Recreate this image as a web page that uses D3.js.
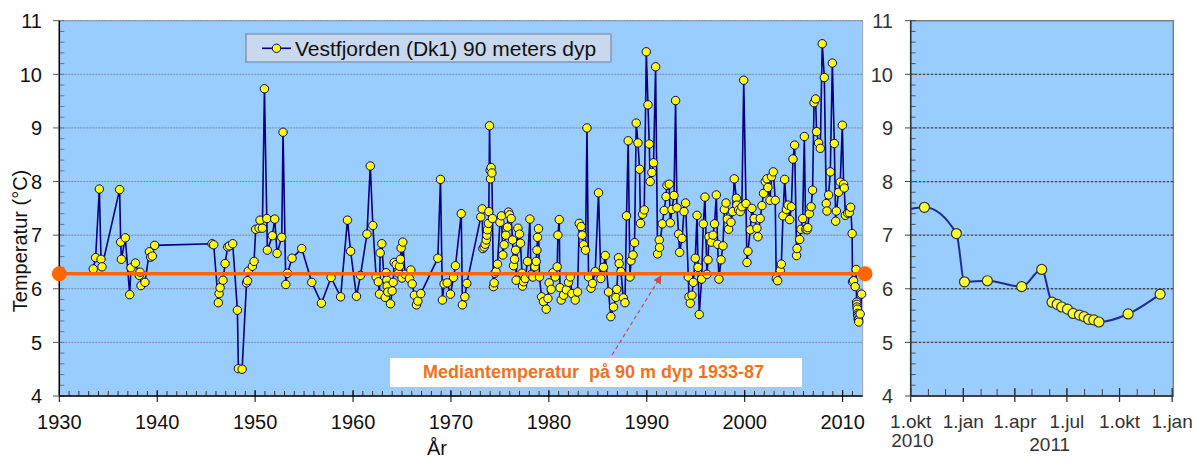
<!DOCTYPE html>
<html><head><meta charset="utf-8">
<script src="https://cdn.jsdelivr.net/npm/d3@7"></script>
<style>body{margin:0;background:#fff}svg{display:block}text{font-family:"Liberation Sans",Arial,sans-serif}</style>
</head><body>
<script>
// ---- data ----
const leftYears = [1933.47,1933.71,1934.09,1934.26,1934.36,1936.16,1936.27,1936.34,1936.74,1937.19,1937.32,1937.77,1938.17,1938.24,1938.34,1938.75,1939.2,1939.33,1939.5,1939.74,
1945.6,1945.77,1946.24,1946.32,1946.42,1946.72,1946.93,1947.2,1947.37,1947.71,1948.19,1948.29,1948.67,1949.12,1949.22,1949.3,1949.72,1949.89,
1950.06,1950.4,1950.5,1950.74,1950.95,1951.19,1951.25,1951.76,1952.0,1952.24,1952.72,1952.85,1953.13,1953.3,1953.77,1954.76,1955.78,1956.77,1957.76,1958.73,1959.43,1959.75,
1960.35,1960.76,1961.42,1961.76,1962.02,1962.36,1962.58,1962.7,1962.77,1962.94,1963.28,1963.38,1963.45,1963.48,1963.55,1963.82,1963.99,1964.1,1964.2,1964.4,1964.64,1964.74,1964.84,1964.91,1965.0,1965.08,1965.32,1965.76,1965.9,1966.04,1966.27,1966.48,1966.62,1966.92,1968.66,1968.93,1969.13,1969.3,1969.61,1969.95,
1970.26,1970.46,1971.05,1971.17,1971.42,1971.62,1973.05,1973.19,1973.26,1973.39,1973.49,1973.6,1973.67,1973.73,1973.83,1973.87,1973.94,1974.0,1974.04,1974.1,1974.18,1974.24,1974.34,1974.41,1974.48,1974.6,1974.75,
1975.0,1975.16,1975.3,1975.43,1975.6,1975.77,1975.87,1975.98,1976.15,1976.29,1976.39,1976.49,1976.6,1976.66,1976.84,1977.0,1977.1,1977.25,1977.31,1977.41,1977.58,1977.82,1978.06,1978.16,1978.37,1978.57,1978.71,1978.78,1978.84,1978.94,1979.04,1979.25,1979.45,1979.73,1979.9,
1980.03,1980.24,1980.41,1980.65,1980.85,1980.92,1981.06,1981.13,1981.26,1981.5,1981.78,1982.01,1982.18,1982.35,1982.69,1982.93,1983.1,1983.3,1983.4,1983.54,1983.74,1983.89,1984.05,1984.3,1984.46,1984.73,1985.07,1985.31,1985.58,1985.76,1986.09,1986.33,1986.6,1986.84,1986.94,1987.11,1987.18,1987.36,1987.6,1987.77,1987.93,1988.1,1988.28,1988.38,1988.59,1988.75,1988.92,1989.1,1989.26,1989.36,1989.57,1989.74,1989.95,
1990.12,1990.25,1990.35,1990.52,1990.69,1990.9,1991.1,1991.27,1991.3,1991.58,1991.78,1991.96,1992.06,1992.29,1992.4,1992.57,1992.78,1992.94,1993.08,1993.25,1993.35,1993.6,1993.8,1993.96,1994.24,1994.31,1994.44,1994.61,1994.75,1994.95,1995.13,1995.23,1995.36,1995.6,1995.77,1995.94,1996.14,1996.25,1996.35,1996.58,1996.76,1996.92,1997.1,1997.23,1997.37,1997.58,1997.78,1997.92,1998.09,1998.22,1998.36,1998.6,1998.77,1998.93,1999.14,1999.2,1999.37,1999.54,1999.71,1999.9,
2000.13,2000.23,2000.33,2000.57,2000.74,2000.97,2001.25,2001.35,2001.58,2001.76,2001.92,2002.1,2002.27,2002.37,2002.58,2002.74,2002.92,2003.12,2003.22,2003.36,2003.63,2003.74,2003.91,2004.08,2004.26,2004.43,2004.59,2004.77,2004.93,2005.1,2005.3,2005.34,2005.61,2005.75,2005.92,2006.09,2006.22,2006.37,2006.43,2006.6,2006.78,2006.93,2007.08,2007.24,2007.34,2007.55,2007.72,2007.92,2008.13,2008.33,2008.4,2008.57,2008.74,2008.95,2009.15,2009.29,2009.36,2009.59,2009.76,2009.97,
2010.1,2010.17,2010.28,2010.51,2010.68,2010.82,2010.97,2011.01,2011.12,2011.28,2011.38,2011.43,2011.45,2011.47,2011.5,2011.53,2011.56,2011.58,2011.6,2011.63,2011.65,2011.79,2011.94];
const leftTemps = [6.37,6.58,7.86,6.55,6.41,7.85,6.87,6.55,6.95,5.89,6.39,6.48,6.25,6.31,6.06,6.12,6.69,6.59,6.61,6.81,
6.84,6.82,5.74,5.91,6.02,6.16,6.47,6.78,6.80,6.84,5.60,4.51,4.50,6.11,6.15,6.33,6.42,6.51,
7.11,7.13,7.28,7.13,9.73,7.31,6.72,6.99,7.30,6.66,6.96,8.92,6.08,6.29,6.57,6.75,6.12,5.73,6.21,5.85,7.28,6.70,
5.86,6.25,7.02,8.29,7.18,6.22,6.13,5.90,6.67,6.84,5.84,6.30,6.16,6.05,5.94,5.72,5.96,6.12,6.49,6.45,6.29,6.42,6.55,6.76,6.20,6.87,6.27,6.19,6.35,6.09,5.88,5.70,5.77,5.91,6.57,8.04,5.79,6.09,6.11,5.90,
6.21,6.43,7.40,5.70,5.85,6.10,7.34,7.49,6.75,6.78,6.83,6.91,7.00,7.10,7.22,7.44,9.04,8.21,8.05,8.26,8.16,7.31,6.04,6.11,6.29,6.32,6.46,
7.24,7.36,6.63,6.82,7.00,7.15,7.43,7.38,7.31,6.91,6.43,6.55,6.72,6.16,7.13,7.02,6.85,6.29,6.05,6.13,6.19,6.51,7.30,6.26,6.22,6.41,6.51,6.72,6.96,7.12,6.22,5.85,5.76,5.62,5.82,
6.11,5.99,6.30,6.22,6.41,7.00,7.29,6.02,5.79,5.88,5.98,6.12,6.22,5.91,5.79,5.94,7.22,7.16,7.00,6.82,6.72,9.00,6.22,6.01,6.10,6.32,7.79,6.19,6.40,6.62,5.94,5.48,5.66,5.84,5.99,6.58,6.47,6.32,5.83,5.74,7.36,8.76,6.22,6.52,6.63,6.86,9.09,8.72,8.23,7.22,7.39,7.47,10.42,
9.43,8.70,8.00,8.17,8.35,10.14,6.65,6.91,6.77,7.21,7.46,7.72,7.93,7.95,7.23,7.48,7.74,9.51,7.51,7.02,6.68,6.94,7.44,7.60,6.22,5.85,5.73,5.88,6.12,6.57,7.37,6.40,5.52,6.18,7.21,7.71,6.27,6.54,6.97,6.87,7.00,7.21,7.75,6.83,6.18,6.54,6.80,7.48,7.60,7.30,7.11,7.24,7.44,8.05,7.69,7.56,7.47,7.44,7.53,9.89,
7.59,6.49,6.70,7.10,7.50,7.31,7.13,6.97,7.31,7.55,7.78,8.00,8.05,7.89,7.65,8.09,8.18,7.65,6.19,6.15,6.34,6.46,7.36,8.04,7.48,7.56,7.29,7.53,8.42,8.68,6.62,6.75,6.92,7.11,7.31,8.84,7.11,7.10,7.14,7.40,7.53,7.84,9.47,9.54,8.93,8.72,8.62,10.57,9.94,7.59,7.45,7.75,8.18,10.21,8.71,7.26,7.45,7.80,7.99,9.05,
7.95,7.88,7.37,7.41,7.42,7.52,7.03,6.13,6.15,6.04,6.36,5.75,5.71,5.66,5.62,5.54,5.51,5.48,5.43,5.42,5.38,5.53,5.90];
const medianTemp = 6.28;
const seriesName = "Vestfjorden (Dk1) 90 meters dyp";
const medianLabel = "Mediantemperatur  på 90 m dyp 1933-87";

const rightDates = ["2010-09-05","2010-10-25","2010-12-20","2011-01-03","2011-02-12","2011-04-13","2011-05-18","2011-06-05","2011-06-14","2011-06-22","2011-07-02","2011-07-12","2011-07-23","2011-07-31","2011-08-08","2011-08-17","2011-08-26","2011-10-16","2011-12-11"];
const rightTemps = [7.42,7.52,7.03,6.13,6.15,6.04,6.36,5.75,5.71,5.66,5.62,5.54,5.51,5.48,5.43,5.42,5.38,5.53,5.90];

const yTicks = [4,5,6,7,8,9,10,11];
const xTicksLeft = [1930,1940,1950,1960,1970,1980,1990,2000,2010];
const rightTickDates = ["2010-10-01","2011-01-01","2011-04-01","2011-07-01","2011-10-01","2012-01-01"];
const rightTickLabels = ["1.okt","1.jan","1.apr","1.jul","1.okt","1.jan"];
const rightYearLabels = [["2010","2010-10-04"],["2011","2011-06-01"]];

// ---- chart ----
const W = 1203, H = 459;
const svg = d3.select("body").append("svg").attr("width", W).attr("height", H);
const bg = "#99CCFF";
const y = d3.scaleLinear().domain([4, 11]).range([396, 20.7]);
const xL = d3.scaleLinear().domain([1930, 2012.05]).range([59.3, 862.7]);
const pd = d3.utcParse("%Y-%m-%d");
const xR = d3.scaleUtc().domain([pd("2010-10-01"), pd("2012-01-03")]).range([910.7, 1173.3]);

// ===== LEFT PANEL =====
const gL = svg.append("g");
gL.append("rect").attr("x", xL.range()[0]).attr("y", y(11)).attr("width", xL.range()[1]-xL.range()[0]).attr("height", y(4)-y(11)).attr("fill", bg).attr("stroke", "#9aa3ad").attr("stroke-width", 1);
gL.selectAll(".grid").data(yTicks.filter(d => d > 4)).join("line")
  .attr("x1", xL.range()[0]).attr("x2", xL.range()[1]).attr("y1", d => y(d)).attr("y2", d => y(d))
  .attr("stroke", "#7d8a99").attr("stroke-width", 1).attr("stroke-dasharray", "2,1");
const minorY = d3.range(4, 11.001, 0.2);
gL.selectAll(".my").data(minorY).join("line")
  .attr("x1", xL.range()[0]).attr("x2", xL.range()[0]+5).attr("y1", d => y(d)).attr("y2", d => y(d))
  .attr("stroke", "#6b7580").attr("stroke-width", 1);
gL.selectAll(".mx").data(d3.range(1931, 2012)).join("line")
  .attr("x1", d => xL(d)).attr("x2", d => xL(d)).attr("y1", 391).attr("y2", 396)
  .attr("stroke", "#333").attr("stroke-width", 1);
gL.append("line").attr("x1", xL.range()[0]).attr("x2", xL.range()[0]).attr("y1", y(11)).attr("y2", y(4)).attr("stroke", "#000").attr("stroke-width", 1.5);
gL.append("line").attr("x1", xL.range()[0]).attr("x2", xL.range()[1]).attr("y1", y(4)).attr("y2", y(4)).attr("stroke", "#000").attr("stroke-width", 1.5);
gL.selectAll(".Mx").data(xTicksLeft).join("line")
  .attr("x1", d => xL(d)).attr("x2", d => xL(d)).attr("y1", 390).attr("y2", 402).attr("stroke", "#000");
gL.selectAll(".My").data(yTicks).join("line")
  .attr("x1", 53).attr("x2", xL.range()[0]).attr("y1", d => y(d)).attr("y2", d => y(d)).attr("stroke", "#555");
gL.selectAll(".yl").data(yTicks).join("text")
  .attr("x", 42).attr("y", d => y(d)).attr("dy", "0.36em").attr("text-anchor", "end")
  .attr("font-size", 20).attr("fill", "#111").text(d => d);
gL.selectAll(".xl").data(xTicksLeft).join("text")
  .attr("x", d => xL(d)).attr("y", 429).attr("text-anchor", "middle")
  .attr("font-size", 20).attr("fill", "#111").text(d => d);
gL.append("text").attr("transform", "translate(27,241) rotate(-90)").attr("text-anchor", "middle")
  .attr("font-size", 20).attr("fill", "#111").text("Temperatur (°C)");
gL.append("text").attr("x", 437).attr("y", 455).attr("text-anchor", "middle").attr("font-size", 20).attr("fill", "#111").text("År");

const leftData = leftYears.map((d, i) => [d, leftTemps[i]]);
gL.append("path").datum(leftData)
  .attr("d", d3.line().x(d => xL(d[0])).y(d => y(d[1])))
  .attr("fill", "none").attr("stroke", "#000080").attr("stroke-width", 1.6).attr("stroke-linejoin", "round");
gL.selectAll(".leftpt").data(leftData).join("circle")
  .attr("cx", d => xL(d[0])).attr("cy", d => y(d[1])).attr("r", 4.2)
  .attr("fill", "#FFFF00").attr("stroke", "#000080").attr("stroke-width", 1);
// median line on top of markers
const orange = "#FF6600";
gL.append("line").attr("x1", xL(1930)).attr("x2", 865).attr("y1", y(medianTemp)).attr("y2", y(medianTemp))
  .attr("stroke", orange).attr("stroke-width", 3.5);
gL.selectAll(".medc").data([xL(1930), 865]).join("circle")
  .attr("cx", d => d).attr("cy", y(medianTemp)).attr("r", 7.5).attr("fill", orange);

// legend
const lg = gL.append("g");
lg.append("rect").attr("x", 246).attr("y", 34).attr("width", 365).attr("height", 28)
  .attr("fill", "#C8D8EE").attr("stroke", "#8797ad").attr("stroke-width", 1.5);
lg.append("line").attr("x1", 262).attr("x2", 291).attr("y1", 48.3).attr("y2", 48.3).attr("stroke", "#000080").attr("stroke-width", 1.6);
lg.append("circle").attr("cx", 276.5).attr("cy", 48.3).attr("r", 4.2).attr("fill", "#FFFF00").attr("stroke", "#000080");
lg.append("text").attr("x", 295).attr("y", 55.8).attr("font-size", 21).attr("fill", "#111").text(seriesName);

// annotation
gL.append("rect").attr("x", 390).attr("y", 358).attr("width", 412).attr("height", 29).attr("fill", "#fff");
gL.append("text").attr("x", 423).attr("y", 378).attr("font-size", 18).attr("font-weight", "bold")
  .attr("fill", "#EE7222").style("white-space", "pre").text(medianLabel);
svg.append("defs").append("marker").attr("id", "arr").attr("viewBox", "0 0 10 10").attr("refX", 9).attr("refY", 5)
  .attr("markerWidth", 7).attr("markerHeight", 7).attr("orient", "auto")
  .append("path").attr("d", "M0,0L10,5L0,10z").attr("fill", "#C0504D");
gL.append("line").attr("x1", 612).attr("y1", 355).attr("x2", 661).attr("y2", 276)
  .attr("stroke", "#C0504D").attr("stroke-width", 1.2).attr("stroke-dasharray", "4,3").attr("marker-end", "url(#arr)");

// ===== RIGHT PANEL =====
const gR = svg.append("g");
const rx0 = xR.range()[0], rx1 = xR.range()[1];
gR.append("rect").attr("x", rx0).attr("y", y(11)).attr("width", rx1-rx0).attr("height", y(4)-y(11))
  .attr("fill", bg).attr("stroke", "#7f7f7f").attr("stroke-width", 1.5);
gR.selectAll(".g").data(yTicks.filter(d => d > 4 && d < 11)).join("line")
  .attr("x1", rx0).attr("x2", rx1).attr("y1", d => y(d)).attr("y2", d => y(d))
  .attr("stroke", "#3d4550").attr("stroke-width", 1.3).attr("stroke-dasharray", "2.5,1.5");
gR.selectAll(".my").data(minorY).join("line")
  .attr("x1", rx0).attr("x2", rx0+5).attr("y1", d => y(d)).attr("y2", d => y(d)).attr("stroke", "#555");
const months = d3.utcMonth.range(pd("2010-11-01"), pd("2012-01-01"));
gR.selectAll(".mm").data(months).join("line")
  .attr("x1", d => xR(d)).attr("x2", d => xR(d)).attr("y1", 389).attr("y2", 396).attr("stroke", "#444");
gR.append("line").attr("x1", rx0).attr("x2", rx0).attr("y1", y(11)).attr("y2", y(4)).attr("stroke", "#333").attr("stroke-width", 1.5);
gR.append("line").attr("x1", rx0).attr("x2", rx1).attr("y1", y(4)).attr("y2", y(4)).attr("stroke", "#222").attr("stroke-width", 1.5);
gR.selectAll(".My").data(yTicks).join("line")
  .attr("x1", 905).attr("x2", rx0).attr("y1", d => y(d)).attr("y2", d => y(d)).attr("stroke", "#444");
gR.selectAll(".Mx").data(rightTickDates).join("line")
  .attr("x1", d => xR(pd(d))).attr("x2", d => xR(pd(d))).attr("y1", 388).attr("y2", 402).attr("stroke", "#333").attr("stroke-width", 1.3);
gR.selectAll(".yl").data(yTicks).join("text")
  .attr("x", 893).attr("y", d => y(d)).attr("dy", "0.36em").attr("text-anchor", "end")
  .attr("font-size", 20).attr("fill", "#333").text(d => d);
gR.selectAll(".xl").data(rightTickDates).join("text")
  .attr("x", d => xR(pd(d))).attr("y", 428).attr("text-anchor", "middle")
  .attr("font-size", 19).attr("fill", "#333").text((d, i) => rightTickLabels[i]);
gR.selectAll(".yr").data(rightYearLabels).join("text")
  .attr("x", d => xR(pd(d[1]))).attr("y", (d, i) => i === 0 ? 447 : 451).attr("text-anchor", "middle")
  .attr("font-size", 19).attr("fill", "#333").text(d => d[0]);

svg.append("clipPath").attr("id", "clipR").append("rect").attr("x", rx0).attr("y", y(11)).attr("width", rx1-rx0).attr("height", y(4)-y(11));
const rightData = rightDates.map((d, i) => [pd(d), rightTemps[i]]);
const gRc = gR.append("g").attr("clip-path", "url(#clipR)");
gRc.append("path").datum(rightData)
  .attr("d", d3.line().curve(d3.curveMonotoneX).x(d => xR(d[0])).y(d => y(d[1])))
  .attr("fill", "none").attr("stroke", "#1d2f8f").attr("stroke-width", 2);
gRc.selectAll(".rp").data(rightData).join("circle")
  .attr("cx", d => xR(d[0])).attr("cy", d => y(d[1])).attr("r", 5)
  .attr("fill", "#FFFF33").attr("stroke", "#333").attr("stroke-width", 1.2);
</script>
</body></html>
